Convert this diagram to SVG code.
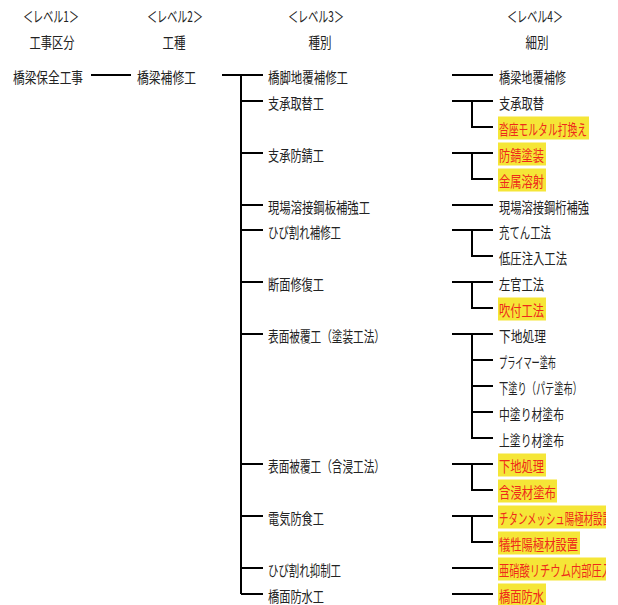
<svg xmlns="http://www.w3.org/2000/svg" width="618" height="605" viewBox="0 0 618 605">
<style>
text{font-family:"Noto Sans CJK JP","Noto Sans CJK SC",sans-serif;font-size:15px;fill:#222;dominant-baseline:central}
.c{text-anchor:middle}
.r{fill:#ee2a1a}
.hl{fill:#f5e637}
.ln{stroke:#000;stroke-width:2;fill:none}
</style>
<defs>
<clipPath id="col4"><rect x="0" y="0" width="606" height="605"/></clipPath>
</defs>
<rect width="618" height="605" fill="#fff"/>
<g id="headers">
<text class="c" x="51" y="15" textLength="56" lengthAdjust="spacingAndGlyphs">＜レベル1＞</text>
<text class="c" x="52" y="41" textLength="45" lengthAdjust="spacingAndGlyphs">工事区分</text>
<text class="c" x="175" y="15" textLength="56" lengthAdjust="spacingAndGlyphs">＜レベル2＞</text>
<text class="c" x="174" y="41" textLength="23" lengthAdjust="spacingAndGlyphs">工種</text>
<text class="c" x="316" y="15" textLength="56" lengthAdjust="spacingAndGlyphs">＜レベル3＞</text>
<text class="c" x="320" y="41" textLength="23" lengthAdjust="spacingAndGlyphs">種別</text>
<text class="c" x="535" y="15" textLength="56" lengthAdjust="spacingAndGlyphs">＜レベル4＞</text>
<text class="c" x="537" y="41" textLength="23" lengthAdjust="spacingAndGlyphs">細別</text>
</g>
<g id="connectors">
<path class="ln" d="M91 75H131"/>
<path class="ln" d="M222 75H263M241 75V594M241 101H263M241 153H263M241 205H263M241 230H263M241 282H263M241 334H263M241 464H263M241 516H263M241 568H263M241 594H263"/>
<path class="ln" d="M452 75H493"/>
<path class="ln" d="M452 101H493M472 101V127H493"/>
<path class="ln" d="M452 153H493M472 153V179H493"/>
<path class="ln" d="M452 205H493"/>
<path class="ln" d="M452 230H493M472 230V256H493"/>
<path class="ln" d="M452 282H493M472 282V308H493"/>
<path class="ln" d="M452 334H493M472 334V438H493M472 360H493M472 386H493M472 412H493"/>
<path class="ln" d="M452 464H493M472 464V490H493"/>
<path class="ln" d="M452 516H493M472 516V542H493"/>
<path class="ln" d="M452 568H493"/>
<path class="ln" d="M452 594H493"/>
</g>
<g id="n1"><text x="13" y="76" textLength="70" lengthAdjust="spacingAndGlyphs">橋梁保全工事</text></g>
<g id="n2"><text x="137" y="76" textLength="59" lengthAdjust="spacingAndGlyphs">橋梁補修工</text></g>
<g id="n3-1"><text x="268" y="76" textLength="80" lengthAdjust="spacingAndGlyphs">橋脚地覆補修工</text></g>
<g id="n3-2"><text x="268" y="102" textLength="56" lengthAdjust="spacingAndGlyphs">支承取替工</text></g>
<g id="n3-3"><text x="268" y="154" textLength="56" lengthAdjust="spacingAndGlyphs">支承防錆工</text></g>
<g id="n3-4"><text x="268" y="206" textLength="102" lengthAdjust="spacingAndGlyphs">現場溶接鋼板補強工</text></g>
<g id="n3-5"><text x="268" y="231" textLength="73" lengthAdjust="spacingAndGlyphs">ひび割れ補修工</text></g>
<g id="n3-6"><text x="268" y="283" textLength="56" lengthAdjust="spacingAndGlyphs">断面修復工</text></g>
<g id="n3-7"><text x="268" y="335" textLength="117" lengthAdjust="spacingAndGlyphs">表面被覆工（塗装工法）</text></g>
<g id="n3-8"><text x="268" y="465" textLength="117" lengthAdjust="spacingAndGlyphs">表面被覆工（含浸工法）</text></g>
<g id="n3-9"><text x="268" y="517" textLength="56" lengthAdjust="spacingAndGlyphs">電気防食工</text></g>
<g id="n3-10"><text x="268" y="569" textLength="73" lengthAdjust="spacingAndGlyphs">ひび割れ抑制工</text></g>
<g id="n3-11"><text x="268" y="595" textLength="56" lengthAdjust="spacingAndGlyphs">橋面防水工</text></g>
<g id="level4" clip-path="url(#col4)">
<g id="n4-1"><text x="499" y="76" textLength="67" lengthAdjust="spacingAndGlyphs">橋梁地覆補修</text></g>
<g id="n4-2"><text x="499" y="102" textLength="45" lengthAdjust="spacingAndGlyphs">支承取替</text></g>
<g id="n4-3"><rect class="hl" x="498" y="116.5" width="91" height="23"/><text class="r" x="499" y="128" textLength="88" lengthAdjust="spacingAndGlyphs">沓座モルタル打換え</text></g>
<g id="n4-4"><rect class="hl" x="498" y="142.5" width="48" height="23"/><text class="r" x="499" y="154" textLength="45" lengthAdjust="spacingAndGlyphs">防錆塗装</text></g>
<g id="n4-5"><rect class="hl" x="498" y="168.5" width="48" height="23"/><text class="r" x="499" y="180" textLength="45" lengthAdjust="spacingAndGlyphs">金属溶射</text></g>
<g id="n4-6"><text x="499" y="206" textLength="90" lengthAdjust="spacingAndGlyphs">現場溶接鋼桁補強</text></g>
<g id="n4-7"><text x="499" y="231" textLength="52" lengthAdjust="spacingAndGlyphs">充てん工法</text></g>
<g id="n4-8"><text x="499" y="257" textLength="68" lengthAdjust="spacingAndGlyphs">低圧注入工法</text></g>
<g id="n4-9"><text x="499" y="283" textLength="45" lengthAdjust="spacingAndGlyphs">左官工法</text></g>
<g id="n4-10"><rect class="hl" x="498" y="297.5" width="48" height="23"/><text class="r" x="499" y="309" textLength="45" lengthAdjust="spacingAndGlyphs">吹付工法</text></g>
<g id="n4-11"><text x="499" y="335" textLength="47" lengthAdjust="spacingAndGlyphs">下地処理</text></g>
<g id="n4-12"><text x="499" y="361" textLength="57" lengthAdjust="spacingAndGlyphs">プライマー塗布</text></g>
<g id="n4-13"><text x="499" y="387" textLength="83" lengthAdjust="spacingAndGlyphs">下塗り（パテ塗布）</text></g>
<g id="n4-14"><text x="499" y="413" textLength="65" lengthAdjust="spacingAndGlyphs">中塗り材塗布</text></g>
<g id="n4-15"><text x="499" y="439" textLength="65" lengthAdjust="spacingAndGlyphs">上塗り材塗布</text></g>
<g id="n4-16"><rect class="hl" x="498" y="453.5" width="48" height="23"/><text class="r" x="499" y="465" textLength="45" lengthAdjust="spacingAndGlyphs">下地処理</text></g>
<g id="n4-17"><rect class="hl" x="498" y="479.5" width="59" height="23"/><text class="r" x="499" y="491" textLength="57" lengthAdjust="spacingAndGlyphs">含浸材塗布</text></g>
<g id="n4-18"><rect class="hl" x="498" y="505.5" width="120" height="23"/><text class="r" x="499" y="517" textLength="113" lengthAdjust="spacingAndGlyphs">チタンメッシュ陽極材設置</text></g>
<g id="n4-19"><rect class="hl" x="498" y="531.5" width="82" height="23"/><text class="r" x="499" y="543" textLength="79" lengthAdjust="spacingAndGlyphs">犠牲陽極材設置</text></g>
<g id="n4-20"><rect class="hl" x="498" y="557.5" width="120" height="23"/><text class="r" x="499" y="569" textLength="113" lengthAdjust="spacingAndGlyphs">亜硝酸リチウム内部圧入</text></g>
<g id="n4-21"><rect class="hl" x="498" y="583.5" width="48" height="23"/><text class="r" x="499" y="595" textLength="45" lengthAdjust="spacingAndGlyphs">橋面防水</text></g>
</g>
</svg>
